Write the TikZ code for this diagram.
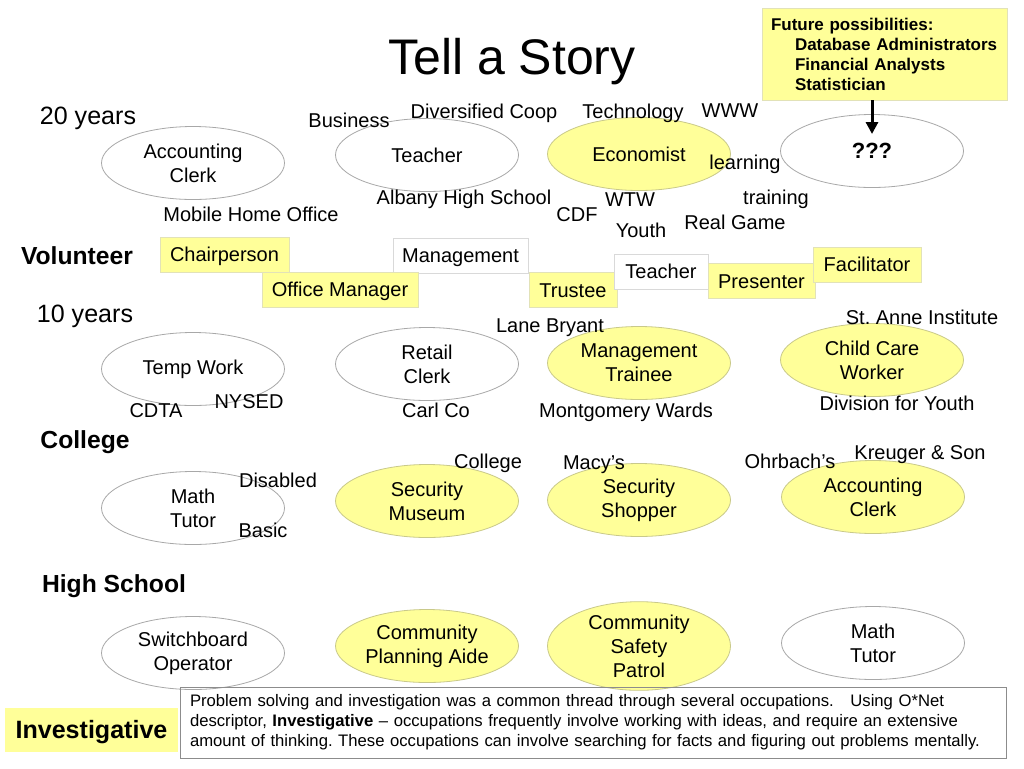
\documentclass[tikz,border=0pt]{standalone}
\usepackage{fontspec}
\setmainfont{Liberation Sans}
\usetikzlibrary{shapes.geometric,arrows.meta}
\definecolor{pyellow}{HTML}{FFFF99}
\definecolor{yborder}{HTML}{C9C98A}
\definecolor{eborder}{HTML}{A8A8A8}
\definecolor{bborder}{HTML}{E2E2B8}
\definecolor{wborder}{HTML}{D9D9D9}
\definecolor{pborder}{HTML}{8C8C8C}
\frenchspacing
\begin{document}
\begin{tikzpicture}[x=0.75pt,y=-0.75pt,
  every node/.style={inner sep=0pt, outer sep=0pt},
  lbl/.style={font=\fontsize{15}{18}\selectfont, text height=10.75pt, text depth=0pt},
  head/.style={font=\fontsize{18.5}{22}\selectfont\bfseries, text height=13.25pt, text depth=0pt},
  yrs/.style={font=\fontsize{18.8}{22}\selectfont, text height=13.46pt, text depth=0pt},
  occ/.style={ellipse, draw=eborder, line width=0.6pt, minimum width=137.25pt, minimum height=54.75pt, align=center, font=\fontsize{15}{18}\selectfont},
  yocc/.style={occ, fill=pyellow, draw=yborder},
  vbox/.style={rectangle, draw=wborder, line width=0.6pt, minimum height=26.25pt, font=\fontsize{15}{18}\selectfont, text height=10.75pt, text depth=0pt},
  yvbox/.style={vbox, fill=pyellow, draw=bborder},
]
\useasboundingbox[fill=white] (0,0) rectangle (1024,768);

% title
\node[font=\fontsize{37.5}{40}\selectfont, text height=26.85pt, text depth=0pt] (title) at (512,57) {Tell a Story};

% row headings
\node[yrs] (y20) at (88,116) {20 years};
\node[head] (vol) at (77,256) {Volunteer};
\node[yrs] (y10) at (85,314) {10 years};
\node[head] (col) at (85,440) {College};
\node[head] (hs) at (114,584) {High School};

% 20 years
\node[occ] (ac1) at (193,163) {Accounting\\Clerk};
\node[occ] (te1) at (427,155) {Teacher};
\node[yocc] (eco) at (639,154) {Economist};
\node[occ, font=\fontsize{16.5}{20}\selectfont\bfseries] (qq) at (872,151) {???};

% 10 years
\node[occ] (tw) at (193,369) {Temp Work};
\node[occ] (rc) at (427,364) {Retail\\Clerk};
\node[yocc] (mt) at (639,363) {Management\\Trainee};
\node[yocc] (cc) at (872,360) {Child Care\\Worker};

% college
\node[occ] (mtu1) at (193,508) {Math\\Tutor};
\node[yocc] (sm) at (427,501) {Security\\Museum};
\node[yocc] (ss) at (639,500) {Security\\Shopper};
\node[yocc] (ac2) at (873,497) {Accounting\\Clerk};

% high school
\node[occ] (so) at (193,653) {Switchboard\\Operator};
\node[yocc] (cpa) at (427,646) {Community\\Planning Aide};
\node[yocc] (csp) at (639,646) {Community\\Safety\\Patrol};
\node[occ] (mtu2) at (873,643) {Math\\Tutor};

% volunteer boxes
\node[yvbox, minimum width=96.75pt] (chair) at (224.5,254.5) {Chairperson};
\node[vbox, fill=white, minimum width=101.25pt] (mgmt) at (460.5,255.5) {Management};
\node[yvbox, minimum width=117pt] (offm) at (340,289.5) {Office Manager};
\node[yvbox, minimum width=66pt] (trus) at (573,290) {Trustee};
\node[vbox, fill=white, minimum width=70.5pt] (teach) at (661,271.5) {Teacher};
\node[yvbox, minimum width=80.25pt] (pres) at (761.5,281) {Presenter};
\node[yvbox, minimum width=81pt] (facil) at (867,264.5) {Facilitator};

% labels
\node[lbl] (l1) at (349,120) {Business};
\node[lbl] (l2) at (484,111) {Diversified Coop};
\node[lbl] (l3) at (633,111) {Technology};
\node[lbl] (l4) at (730,110) {WWW};
\node[lbl] (l5) at (745,162) {learning};
\node[lbl] (l6) at (464,197) {Albany High School};
\node[lbl] (l7) at (630,199) {WTW};
\node[lbl] (l8) at (776,197) {training};
\node[lbl] (l9) at (577,214) {CDF};
\node[lbl] (l10) at (735,222) {Real Game};
\node[lbl] (l11) at (641,230) {Youth};
\node[lbl] (l12) at (251,214) {Mobile Home Office};
\node[lbl] (l13) at (550,325) {Lane Bryant};
\node[lbl] (l14) at (922,317) {St. Anne Institute};
\node[lbl] (l15) at (249,401) {NYSED};
\node[lbl] (l16) at (156,410) {CDTA};
\node[lbl] (l17) at (436,410) {Carl Co};
\node[lbl] (l18) at (626,410) {Montgomery Wards};
\node[lbl] (l19) at (897,403) {Division for Youth};
\node[lbl] (l20) at (488,461) {College};
\node[lbl] (l21) at (594,462) {Macy’s};
\node[lbl] (l22) at (790,461) {Ohrbach’s};
\node[lbl] (l23) at (920,452) {Kreuger \& Son};
\node[lbl] (l24) at (278,480) {Disabled};
\node[lbl] (l25) at (263,530) {Basic};

% future possibilities
\node[rectangle, fill=pyellow, draw=bborder, line width=0.6pt, text width=170.25pt, inner xsep=6.75pt, minimum height=69pt, align=left, font=\fontsize{12.75}{15}\selectfont\bfseries] (future) at (884.5,54)
  {Future possibilities:\\\hspace*{18pt}Database Administrators\\\hspace*{18pt}Financial Analysts\\\hspace*{18pt}Statistician};
\coordinate (qtip) at (872,134);
\draw[line width=2.25pt, -{Triangle[length=9pt,width=9pt]}] (future.south -| qtip) -- (qtip);

% investigative
\node[fill=pyellow, minimum width=129.75pt, minimum height=33pt, font=\fontsize{18.8}{22}\selectfont\bfseries, text height=13.46pt, text depth=0pt] (inv) at (91.5,730) {Investigative};
\node[draw=pborder, line width=0.6pt, text width=604.5pt, inner xsep=7.5pt, minimum height=53.25pt, align=left, font=\fontsize{12.5}{15}\selectfont] (para) at (593,722.5)
  {Problem solving and investigation was a common thread through several occupations.\ \ \ Using O*Net\\
   descriptor, \textbf{Investigative} – occupations frequently involve working with ideas, and require an extensive\\
   amount of thinking. These occupations can involve searching for facts and figuring out problems mentally.};
\end{tikzpicture}
\end{document}
